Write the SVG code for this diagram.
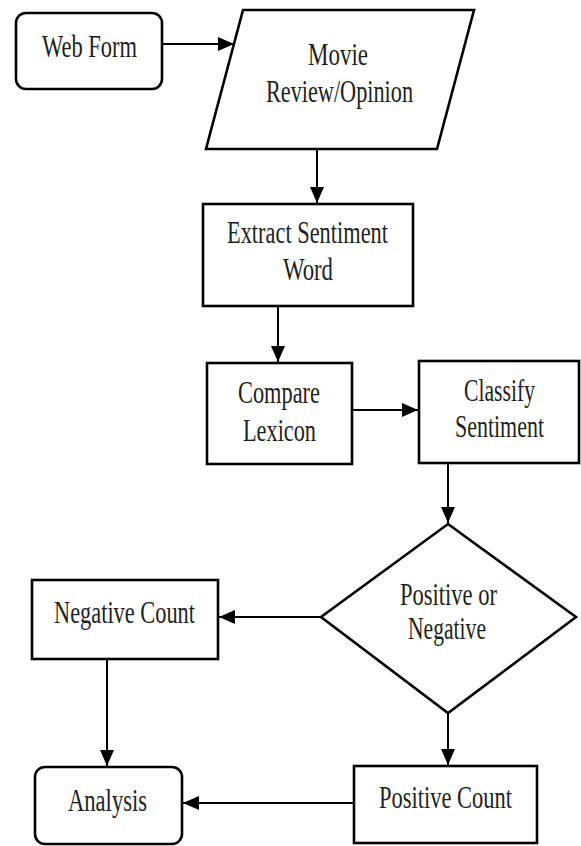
<svg xmlns="http://www.w3.org/2000/svg" width="581" height="846" viewBox="0 0 581 846">
<style>
.shape{fill:#fff;stroke:#000;stroke-width:2.6}
.lbl{font-family:"Liberation Serif","Times New Roman",serif;font-size:31px;fill:#1e1e1e;text-anchor:middle}
.conn{stroke:#000;stroke-width:2;fill:none;marker-end:url(#ah)}
</style>
<defs>
<marker id="ah" markerUnits="userSpaceOnUse" markerWidth="17" markerHeight="15" refX="16" refY="7" orient="auto">
<path d="M0,0 L16,7 L0,14 z" fill="#000"/>
</marker>
</defs>
<rect width="581" height="846" fill="#fff"/>
<g id="connectors">
<line class="conn" x1="162" y1="44" x2="234" y2="44"/>
<line class="conn" x1="317" y1="149" x2="317" y2="203"/>
<line class="conn" x1="278" y1="306" x2="278" y2="362"/>
<line class="conn" x1="352" y1="410" x2="418" y2="410"/>
<line class="conn" x1="448" y1="463" x2="448" y2="523"/>
<line class="conn" x1="321" y1="617" x2="219" y2="617"/>
<line class="conn" x1="448" y1="713" x2="448" y2="765"/>
<line class="conn" x1="107" y1="659" x2="107" y2="766"/>
<line class="conn" x1="354" y1="803" x2="183" y2="803"/>
</g>
<g id="web-form">
<rect class="shape" x="16" y="13" width="146" height="76" rx="10"/>
<text class="lbl" x="89.5" y="57" textLength="95" lengthAdjust="spacingAndGlyphs">Web Form</text>
</g>
<g id="movie-review">
<polygon class="shape" points="243,10 474,10 437,149 206,149"/>
<text class="lbl" x="338" y="65" textLength="60" lengthAdjust="spacingAndGlyphs">Movie</text>
<text class="lbl" x="339.5" y="102" textLength="147" lengthAdjust="spacingAndGlyphs">Review/Opinion</text>
</g>
<g id="extract">
<rect class="shape" x="203" y="204" width="210" height="102"/>
<text class="lbl" x="307.5" y="243" textLength="161" lengthAdjust="spacingAndGlyphs">Extract Sentiment</text>
<text class="lbl" x="308" y="280" textLength="50" lengthAdjust="spacingAndGlyphs">Word</text>
</g>
<g id="compare">
<rect class="shape" x="207" y="363" width="145" height="101"/>
<text class="lbl" x="279" y="403" textLength="82" lengthAdjust="spacingAndGlyphs">Compare</text>
<text class="lbl" x="279.5" y="441" textLength="73" lengthAdjust="spacingAndGlyphs">Lexicon</text>
</g>
<g id="classify">
<rect class="shape" x="419" y="361" width="160" height="102"/>
<text class="lbl" x="499.5" y="401" textLength="71" lengthAdjust="spacingAndGlyphs">Classify</text>
<text class="lbl" x="499.5" y="437" textLength="89" lengthAdjust="spacingAndGlyphs">Sentiment</text>
</g>
<g id="decision">
<polygon class="shape" points="448,524 576,617 448,713 321,617"/>
<text class="lbl" x="448.5" y="605" textLength="97" lengthAdjust="spacingAndGlyphs">Positive or</text>
<text class="lbl" x="447" y="639" textLength="78" lengthAdjust="spacingAndGlyphs">Negative</text>
</g>
<g id="negative-count">
<rect class="shape" x="32" y="580" width="186" height="79"/>
<text class="lbl" x="124.5" y="623" textLength="141" lengthAdjust="spacingAndGlyphs">Negative Count</text>
</g>
<g id="positive-count">
<rect class="shape" x="354" y="766" width="183" height="77"/>
<text class="lbl" x="445.5" y="808" textLength="133" lengthAdjust="spacingAndGlyphs">Positive Count</text>
</g>
<g id="analysis">
<rect class="shape" x="35" y="767" width="147" height="77" rx="10"/>
<text class="lbl" x="107.5" y="811" textLength="79" lengthAdjust="spacingAndGlyphs">Analysis</text>
</g>
</svg>
